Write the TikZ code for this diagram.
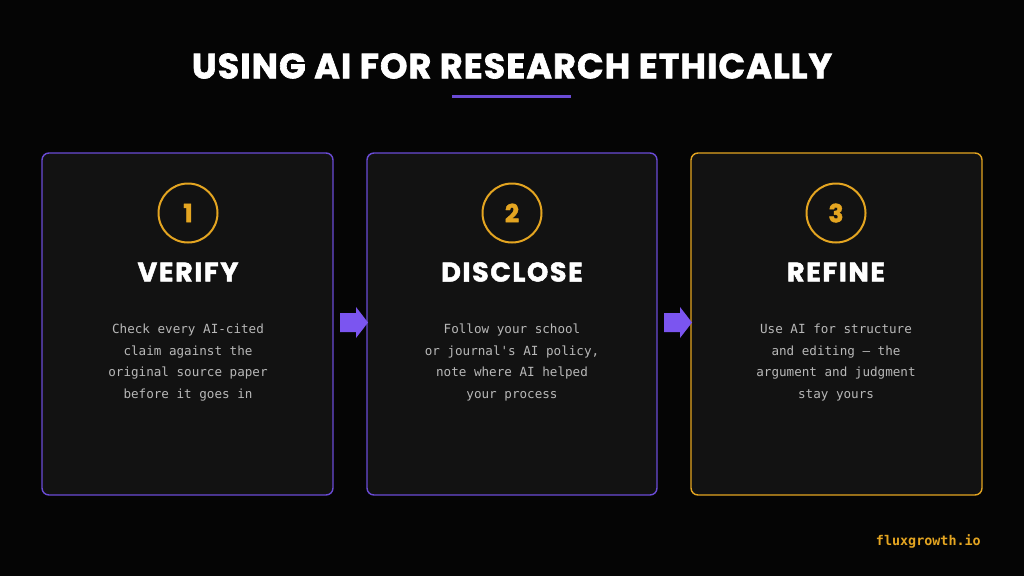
\documentclass[tikz,border=0pt]{standalone}
\usepackage{fontspec}
\setmainfont{Poppins}
\newfontfamily\heavy{Poppins}[FakeBold=1.6]
\newfontfamily\heavyspaced{Poppins}[FakeBold=1.8, LetterSpace=6]
\newfontfamily\heavytitle{Poppins}[FakeBold=1.8, LetterSpace=3]
\newfontfamily\mono{DejaVu Sans Mono}
\definecolor{bg}{HTML}{050505}
\definecolor{card}{HTML}{121212}
\definecolor{purp}{HTML}{6A4BD6}
\definecolor{arrowp}{HTML}{7B55F0}
\definecolor{gold}{HTML}{E4A521}
\definecolor{body}{HTML}{B8B8B8}
\tikzset{
  cardbox/.style={draw=purp, line width=1.4pt, fill=card, rounded corners=7pt},
  numcircle/.style={circle, draw=gold, line width=2pt, minimum size=59pt, inner sep=0pt, text=gold, font=\heavy\bfseries\fontsize{25}{30}\selectfont},
  cardtitle/.style={text=white, font=\heavyspaced\bfseries\fontsize{27}{30}\selectfont},
  bodytext/.style={text=body, align=center, font=\mono\fontsize{12.6}{21.6}\selectfont},
  flowarrow/.style={fill=arrowp, draw=none}
}
\begin{document}
\begin{tikzpicture}[x=1pt, y=-1pt]
\useasboundingbox (0,0) rectangle (1024,576);
\fill[bg] (0,0) rectangle (1024,576);
\node[text=white, font=\heavytitle\bfseries\fontsize{35}{40}\selectfont] (title) at (512,66) {USING AI FOR RESEARCH ETHICALLY};
\draw[purp, line width=3pt] (452,96) -- (571,96);
% cards
\draw[cardbox] (42,153) rectangle (333,495);
\draw[cardbox] (367,153) rectangle (657,495);
\draw[cardbox, draw=gold] (691,153) rectangle (982,495);
% arrows
\fill[flowarrow] (340,313) -- (356,313) -- (356,307) -- (368,322.5) -- (356,338) -- (356,332) -- (340,332) -- cycle;
\fill[flowarrow] (664,313) -- (680,313) -- (680,307) -- (692,322.5) -- (680,338) -- (680,332) -- (664,332) -- cycle;
% card 1
\node[numcircle] (c1) at (188,213) {1};
\node[cardtitle] (t1) at (188,272) {VERIFY};
\node[bodytext] (b1) at (188,362.5) {Check every AI-cited\\claim against the\\original source paper\\before it goes in};
% card 2
\node[numcircle] (c2) at (512,213) {2};
\node[cardtitle] (t2) at (512,272) {DISCLOSE};
\node[bodytext] (b2) at (512,362.5) {Follow your school\\or journal's AI policy,\\note where AI helped\\your process};
% card 3
\node[numcircle] (c3) at (836,213) {3};
\node[cardtitle] (t3) at (836,272) {REFINE};
\node[bodytext] (b3) at (836,362.5) {Use AI for structure\\and editing — the\\argument and judgment\\stay yours};
% footer
\node[text=gold, font=\mono\bfseries\fontsize{13.4}{16}\selectfont, anchor=east, inner sep=0pt] (foot) at (981,541) {fluxgrowth.io};
\end{tikzpicture}
\end{document}
